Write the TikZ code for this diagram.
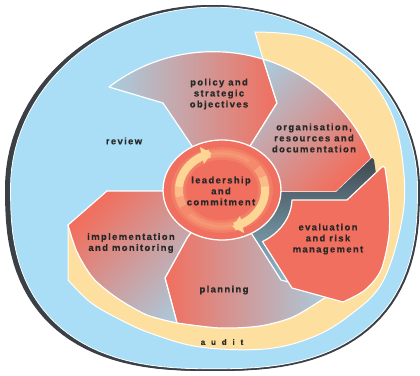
\documentclass[tikz,border=0pt]{standalone}
\usepackage{fontspec}
\newfontfamily\lblfont{Liberation Sans}[UprightFont={* Bold}, LetterSpace=14, FakeBold=0.4]
\newfontfamily\auditfont{Liberation Sans}[UprightFont={* Bold}, LetterSpace=45, FakeBold=0.4]
\usetikzlibrary{arrows.meta}
\definecolor{bgblue}{RGB}{170,222,246}
\definecolor{salmon}{RGB}{241,111,94}
\definecolor{segblue}{RGB}{168,205,224}
\definecolor{bandyellow}{RGB}{253,223,160}
\definecolor{arrowyellow}{RGB}{253,214,150}
\definecolor{rimgray}{RGB}{58,64,70}
\definecolor{bevdark}{RGB}{62,72,80}
\definecolor{bevlight}{RGB}{150,196,216}
\definecolor{txtgray}{RGB}{40,40,40}
% outline of the whole disc: round on top, fuller below
\newcommand{\rimline}{plot[domain=180:360, samples=60] ({214+206*cos(\x)}, {188+183*sin(\x)}) -- plot[domain=0.5:179.5, samples=60] ({214+206*cos(\x)*abs(cos(\x))^(-0.22)}, {188+183*sin(\x)^0.78}) -- cycle}
% evaluation segment in its flat place
\newcommand{\evalline}{(372,158) -- (336,192) -- (281,192) arc[start angle=2, end angle=60, x radius=59, y radius=50] -- (281,280) -- plot[smooth] coordinates {(332,294) (354,282) (370,262) (378,227) (378,192) (374,160)} -- cycle}

\begin{document}
\begin{tikzpicture}[x=1pt, y=-1pt,
		seg/.style={draw=white, line width=1.2pt, line join=round},
		lbl/.style={font=\lblfont\fontsize{9.5}{11}\selectfont, text=txtgray, align=center},
		cyclearrow/.style={line width=8pt, draw=arrowyellow, -{Triangle[width=17pt,length=10pt]}}]
	\useasboundingbox (0,0) rectangle (420,375);
	\coordinate (O) at (222,190);
	
	%outer rim
	\fill[rimgray, shift={(-3,0)}] \rimline;
	\fill[rimgray] \rimline;
	\filldraw[fill=bgblue, draw=white, line width=0.8pt, scale around={0.988:(216,188)}] \rimline;
	
	%audit band
	\filldraw[fill=bandyellow, draw=white, line width=1pt] plot[smooth, tension=0.6] coordinates {(255,32) (310,38) (360,68) (392,115) (404,175) (401,225) (382,283) (350,315) (313,337) (265,349) (200,347) (150,333) (117,318) (90,302) (68,280)} -- (68,225) -- (O) -- (263,59) -- cycle;
	
	%segments
	\shadedraw[seg, left color=segblue, right color=salmon] (109,87) arc[start angle=-127.5, end angle=-73, radius=171] -- (277,103) -- (252,143) -- (O) -- (190,143) -- (163,103) -- cycle;
	\shadedraw[seg, top color=segblue, bottom color=salmon, shading angle=45] (263,59) arc[start angle=-73, end angle=-22, radius=171] -- (336,192) -- (281,192) -- (O) -- (252,143) -- (277,103) -- cycle;
	\shade[top color=bevdark, bottom color=bevlight] \evalline;
	\shadedraw[seg, left color=salmon, right color=segblue] (187,238) -- (165,278) -- plot[smooth] coordinates {(177,323) (220,328) (260,326) (293,317) (323,299)} -- (332,294) -- (281,280) -- (251.5,233.5) -- (O) -- cycle;
	\shadedraw[seg, top color=salmon, bottom color=segblue, shading angle=45] (68,225) -- (107,191) -- (163,191) -- (O) -- (187,238) -- (165,278) -- plot[smooth] coordinates {(177,323) (147,315) (117,298) (93,278) (77,252) (68,225)} -- cycle;
	\filldraw[seg, fill=salmon, shift={(11,8)}] \evalline;
	
	%centre
	\filldraw[fill=salmon, draw=white, line width=1.3pt] (O) ellipse[x radius=59, y radius=50];
	\foreach \r/\m in {51/15, 48/30, 45/40, 42/30, 39/15, 36/0}{
		\fill[arrowyellow!\m!salmon] (O) ellipse[x radius=\r, y radius=0.84*\r];
	}
	\foreach \a/\b/\m in {140/157/25, 155/172/50, 170/187/75, -50/-33/25, -35/-18/50, -20/-3/75}{
		\draw[line width=8pt, draw=arrowyellow!\m!salmon] plot[domain=\a:\b, samples=8] ({222+43*cos(\x)}, {190+38*sin(\x)});
	}
	\draw[cyclearrow] plot[domain=185:256, samples=30] ({222+43*cos(\x)}, {190+38*sin(\x)});
	\draw[cyclearrow] plot[domain=-5:76, samples=30] ({222+43*cos(\x)}, {190+38*sin(\x)});
	
	%labels
	\node (review) at (124,141) [lbl]{review};
	\node (policy) at (219,94) [lbl]{policy and\\strategic\\objectives};
	\node (organisation) at (314,138) [lbl]{organisation,\\resources and\\documentation};
	\node (evaluation) at (328,239) [lbl]{evaluation\\and risk\\management};
	\node (planning) at (224,290) [lbl]{planning};
	\node (implementation) at (131,243) [lbl]{implementation\\and monitoring};
	\node (leadership) at (221,191) [lbl]{leadership\\and\\commitment};
	\node (audit) at (222,342) [lbl, font=\auditfont\fontsize{8}{9}\selectfont]{a u d i t};
\end{tikzpicture}
\end{document}
